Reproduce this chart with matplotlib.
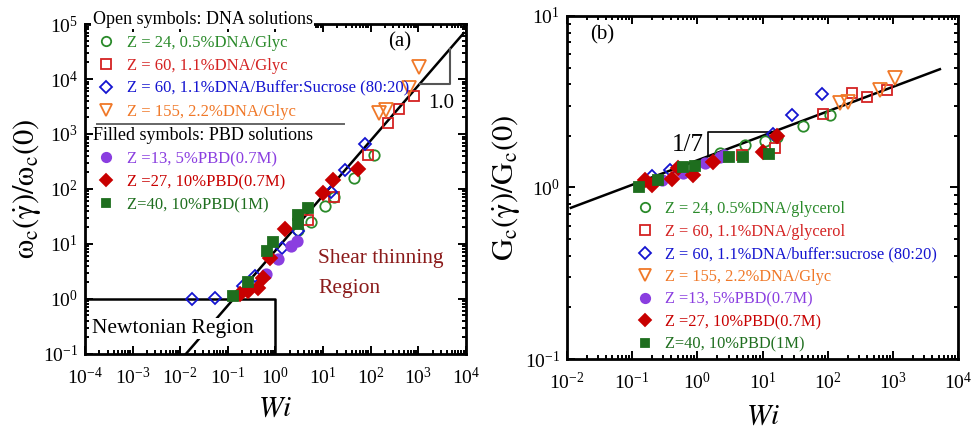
import matplotlib
matplotlib.use('Agg')
import matplotlib.pyplot as plt
from matplotlib.lines import Line2D
from matplotlib.ticker import LogLocator, NullFormatter
import numpy as np

plt.rcParams['font.family'] = ['Liberation Serif', 'DejaVu Serif']
plt.rcParams['mathtext.fontset'] = 'stix'

# ── colours ──
C_DNA24 = '#2a8a2a'
C_DNA60 = '#d42222'
C_BUF60 = '#1414d0'
C_DNA155 = '#f07828'
C_PBD13 = '#8a3ee0'
C_PBD27 = '#c80000'
C_PBD40 = '#1e6e1e'

# ── (a) omega_c(gamma)/omega_c(0) vs Wi ──
a_wi_dna24 = [3.0, 5.5, 11, 16.6, 44, 115]
a_om_dna24 = [18, 25, 50, 70, 160, 410]
a_wi_dna60 = [4.9, 17, 87, 230, 390, 810]
a_om_dna60 = [27, 70, 410, 1600, 2800, 4900]
a_wi_buf60 = [0.018, 0.055, 0.21, 0.38, 1.4, 3.0, 14.5, 29, 77]
a_om_buf60 = [1.0, 1.05, 1.75, 2.6, 8.3, 17, 88, 220, 650]
a_wi_dna155 = [150, 210, 630, 1020]
a_om_dna155 = [2400, 2700, 6900, 16600]
a_wi_pbd13 = [0.27, 0.62, 1.15, 2.1, 2.9]
a_om_pbd13 = [1.55, 2.9, 5.4, 9.3, 11.5]
a_wi_pbd27 = [0.18, 0.27, 0.42, 0.54, 0.78, 1.6, 9.8, 16, 54]
a_om_pbd27 = [1.23, 1.4, 1.6, 2.4, 5.6, 19, 83, 145, 235]
a_wi_pbd40 = [0.13, 0.26, 0.68, 0.91, 3.0, 3.0, 4.9]
a_om_pbd40 = [1.15, 2.0, 7.6, 10.8, 23, 33, 46]

# ── (b) G_c(gamma)/G_c(0) vs Wi ──
b_wi_dna24 = [2.2, 5.4, 10.9, 16.6, 42, 107]
b_g_dna24 = [1.58, 1.76, 1.86, 1.96, 2.27, 2.63]
b_wi_dna60 = [4.8, 15.5, 85, 234, 400, 810]
b_g_dna60 = [1.54, 1.69, 2.67, 3.53, 3.35, 3.68]
b_wi_buf60 = [0.2, 0.38, 14.4, 28, 81]
b_g_buf60 = [1.16, 1.26, 2.06, 2.63, 3.49]
b_wi_dna155 = [155, 205, 630, 1070]
b_g_dna155 = [3.09, 3.13, 3.68, 4.37]
b_wi_pbd13 = [0.29, 0.6, 1.32, 2.2, 2.6]
b_g_pbd13 = [1.1, 1.22, 1.38, 1.5, 1.55]
b_wi_pbd27 = [0.16, 0.2, 0.41, 0.5, 0.85, 1.73, 10, 16.5]
b_g_pbd27 = [1.1, 1.03, 1.12, 1.29, 1.19, 1.40, 1.62, 2.0]
b_wi_pbd40 = [0.126, 0.25, 0.6, 0.92, 3.0, 5.0, 12.6]
b_g_pbd40 = [1.0, 1.1, 1.31, 1.33, 1.5, 1.5, 1.56]

# fitted power laws  y = A * Wi**n
A_a, n_a = 7.6, 1.0
A_b, n_b = 1.44, 1.0 / 7

labels_a = ['Z = 24, 0.5%DNA/Glyc', 'Z = 60, 1.1%DNA/Glyc',
            'Z = 60, 1.1%DNA/Buffer:Sucrose (80:20)', 'Z = 155, 2.2%DNA/Glyc',
            'Z =13, 5%PBD(0.7M)', 'Z =27, 10%PBD(0.7M)', 'Z=40, 10%PBD(1M)']
labels_b = ['Z = 24, 0.5%DNA/glycerol', 'Z = 60, 1.1%DNA/glycerol',
            'Z = 60, 1.1%DNA/buffer:sucrose (80:20)', 'Z = 155, 2.2%DNA/Glyc',
            'Z =13, 5%PBD(0.7M)', 'Z =27, 10%PBD(0.7M)', 'Z=40, 10%PBD(1M)']

styles = [  # (marker, colour, filled, size)
    ('o', C_DNA24, False, 7.5),
    ('s', C_DNA60, False, 7.5),
    ('D', C_BUF60, False, 6.5),
    ('v', C_DNA155, False, 9.5),
    ('o', C_PBD13, True, 7.5),
    ('D', C_PBD27, True, 7),
    ('s', C_PBD40, True, 7),
]


def draw_series(ax, xs, ys):
    for (mk, c, filled, ms), x, y in zip(styles, xs, ys):
        ax.plot(x, y, ls='none', marker=mk, ms=ms, mec=c,
                mfc=c if filled else 'none', mew=1.3, zorder=3)


def handle(i):
    mk, c, filled, ms = styles[i]
    return Line2D([], [], ls='none', marker=mk, ms=ms * 0.9, mec=c,
                  mfc=c if filled else 'none', mew=1.3)


def style_axes(ax):
    ax.set_xscale('log'); ax.set_yscale('log')
    for axis in (ax.xaxis, ax.yaxis):
        axis.set_major_locator(LogLocator(base=10, numticks=20))
        axis.set_minor_locator(LogLocator(base=10, subs=np.arange(2, 10), numticks=20))
        axis.set_minor_formatter(NullFormatter())
    ax.tick_params(which='both', direction='in', top=True, right=True,
                   labelsize=14, width=1.4)
    ax.tick_params(which='major', length=6)
    ax.tick_params(which='minor', length=3)
    ax.tick_params(axis='x', pad=9)
    ax.tick_params(axis='y', pad=5)
    for s in ax.spines.values():
        s.set_linewidth(2)


fig = plt.figure(figsize=(9.74, 4.29), dpi=100)
ax1 = fig.add_axes([0.0873, 0.175, 0.391, 0.769])
ax2 = fig.add_axes([0.582, 0.163, 0.402, 0.800])

# ─────────── panel (a) ───────────
style_axes(ax1)
ax1.set_xlim(1e-4, 1e4)
ax1.set_ylim(1e-1, 1e5)
draw_series(ax1,
            [a_wi_dna24, a_wi_dna60, a_wi_buf60, a_wi_dna155, a_wi_pbd13, a_wi_pbd27, a_wi_pbd40],
            [a_om_dna24, a_om_dna60, a_om_buf60, a_om_dna155, a_om_pbd13, a_om_pbd27, a_om_pbd40])
xl = np.logspace(np.log10(0.1 / A_a), np.log10(9000), 50)
ax1.plot(xl, A_a * xl ** n_a, color='k', lw=1.8, zorder=2)

# Newtonian box
ax1.plot([1e-4, 1, 1], [1, 1, 0.1], color='k', lw=1.8, zorder=2)
ax1.text(1.4e-4, 0.29, 'Newtonian Region', fontsize=15.5, va='center', ha='left',
         zorder=4, bbox=dict(facecolor='white', edgecolor='none', pad=1))
ax1.text(8, 2.9, 'Shear thinning\nRegion', fontsize=15.5, color='#8b1a1a',
         va='center', ha='left', linespacing=1.85)

# slope triangle
cx, cy = 10 ** 3.66, 10 ** 3.91
ax1.plot([cy / A_a, cx, cx], [cy, cy, A_a * cx], color='#555555', lw=1.5, zorder=2)
ax1.text(0.934, 0.76, '1.0', transform=ax1.transAxes, fontsize=15,
         ha='center', va='center')
ax1.text(0.827, 0.945, '(a)', transform=ax1.transAxes, fontsize=15,
         ha='center', va='center')

ax1.set_xlabel(r'$Wi$', fontsize=21, labelpad=6)
ax1.set_ylabel(r'$\mathrm{\omega_c(\dot{\gamma})/\omega_c(0)}$', fontsize=22, labelpad=0)

# legends
leg1 = ax1.legend([handle(i) for i in range(4)], labels_a[:4], loc='upper left',
                  bbox_to_anchor=(0.02, 1.04), frameon=False, fontsize=12,
                  title='Open symbols: DNA solutions', title_fontsize=13,
                  alignment='left', labelcolor='markeredgecolor',
                  handletextpad=0.45, labelspacing=0.42, borderaxespad=0,
                  handlelength=1.6, borderpad=0.0)
leg1.get_title().set_bbox(dict(facecolor='white', edgecolor='none', pad=1))
leg1.set_zorder(5)
ax1.add_artist(leg1)
ax1.plot([0.031, 0.68], [0.697, 0.697], color='#666666', lw=1.4,
         transform=ax1.transAxes, clip_on=False)
leg2 = ax1.legend([handle(i) for i in range(4, 7)], labels_a[4:], loc='upper left',
                  bbox_to_anchor=(0.02, 0.688), frameon=False, fontsize=12,
                  title='Filled symbols: PBD solutions', title_fontsize=13,
                  alignment='left', labelcolor='markeredgecolor',
                  handletextpad=0.45, labelspacing=0.42, borderaxespad=0,
                  handlelength=1.6, borderpad=0.0)

# ─────────── panel (b) ───────────
style_axes(ax2)
ax2.set_xlim(1e-2, 1e4)
ax2.set_ylim(1e-1, 1e1)
draw_series(ax2,
            [b_wi_dna24, b_wi_dna60, b_wi_buf60, b_wi_dna155, b_wi_pbd13, b_wi_pbd27, b_wi_pbd40],
            [b_g_dna24, b_g_dna60, b_g_buf60, b_g_dna155, b_g_pbd13, b_g_pbd27, b_g_pbd40])
xl = np.logspace(np.log10(0.0115), np.log10(5200), 50)
ax2.plot(xl, A_b * xl ** n_b, color='k', lw=1.8, zorder=2)

# slope triangle
tx0, tx1 = 1.46, 14.4
ty = A_b * tx1 ** n_b
ax2.plot([tx0, tx0, tx1], [A_b * tx0 ** n_b, ty, ty], color='k', lw=1.2, zorder=2)
ax2.text(tx0 * 0.85, 1.78, '1/7', fontsize=18, ha='right', va='center')
ax2.text(0.09, 0.945, '(b)', transform=ax2.transAxes, fontsize=15,
         ha='center', va='center')

ax2.legend([handle(i) for i in range(7)], labels_b, loc='upper left',
           bbox_to_anchor=(0.17, 0.46), frameon=False, fontsize=11.8,
           labelcolor='markeredgecolor', handletextpad=0.5, labelspacing=0.4,
           borderaxespad=0, handlelength=1.4, borderpad=0.0)

ax2.set_xlabel(r'$Wi$', fontsize=21, labelpad=8)
ax2.set_ylabel(r'$\mathrm{G_c(\dot{\gamma})/G_c(0)}$', fontsize=22, labelpad=2)

fig.savefig('out.png', dpi=100)
